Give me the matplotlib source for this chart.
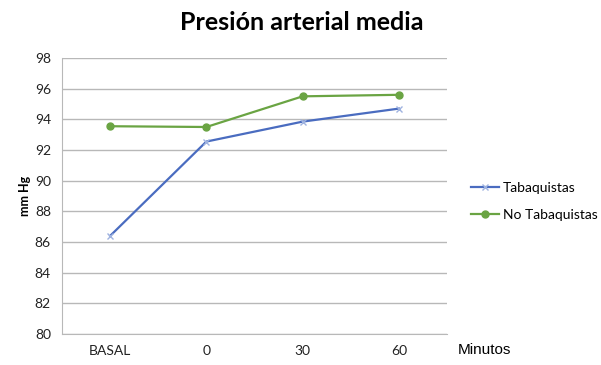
import matplotlib
matplotlib.use("Agg")
import matplotlib.pyplot as plt

categories = ["BASAL", "0", "30", "60"]
tabaquistas = [86.4, 92.55, 93.85, 94.7]
no_tabaquistas = [93.55, 93.5, 95.5, 95.6]
y_ticks = [80, 82, 84, 86, 88, 90, 92, 94, 96, 98]

BLUE = "#4a6cc0"
GREEN = "#6aa443"
GRID = "#b8b8b8"

plt.rcParams["font.family"] = ["Lato", "DejaVu Sans"]

fig = plt.figure(figsize=(6.01, 3.65), dpi=100)
ax = fig.add_axes([62 / 601, 31 / 365, 385 / 601, 276 / 365])

x = range(len(categories))
ax.plot(x, tabaquistas, color=BLUE, lw=1.6, marker="x", ms=4,
        mec="#9fb3e0", mew=1, label="Tabaquistas")
ax.plot(x, no_tabaquistas, color=GREEN, lw=1.6, marker="o", ms=5,
        label="No Tabaquistas")

ax.set_xlim(-0.5, len(categories) - 0.5)
ax.set_ylim(80, 98)
ax.set_yticks(y_ticks)
ax.set_xticks(list(x))
ax.set_xticklabels(categories)
ax.tick_params(axis="both", length=0, labelsize=10, colors="#222222", pad=8)
ax.yaxis.grid(True, color=GRID, lw=1)
ax.set_axisbelow(True)
for side in ("top", "right"):
    ax.spines[side].set_visible(False)
for side in ("left", "bottom"):
    ax.spines[side].set_color(GRID)

ax.set_ylabel("mm Hg", fontsize=9, fontweight="bold", labelpad=3)
fig.text(302 / 601, 1 - 22 / 365, "Presión arterial media", ha="center",
         va="center", fontsize=18, fontweight="bold")
fig.text(458 / 601, 1 - 350 / 365, "Minutos", ha="left", va="center",
         fontsize=11, family="Liberation Sans")

ax.legend(loc="center left", bbox_to_anchor=(1.03, 0.48), frameon=False,
          fontsize=10, handlelength=2.0, handletextpad=0.3, labelspacing=1.1)

fig.savefig("out.png", dpi=100)
